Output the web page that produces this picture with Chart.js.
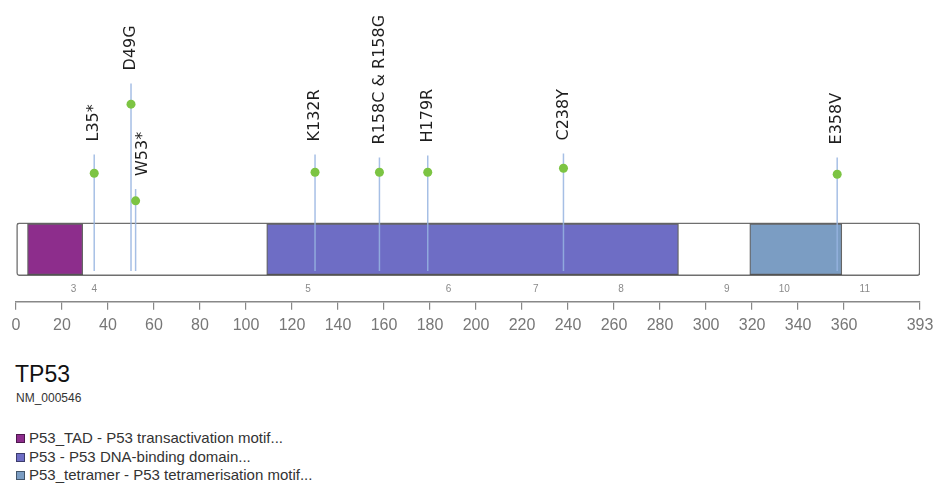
<!DOCTYPE html>
<html lang="en">
<head>
    <meta charset="UTF-8">
    <title>TP53 lollipop</title>
    <script src="https://cdn.jsdelivr.net/npm/chart.js"></script>
    <style>
        body {
            margin: 0;
            width: 936px;
            height: 499px;
            background: #fff;
            font-family: 'Liberation Sans', Arial, sans-serif;
            position: relative;
            overflow: hidden;
        }
        #chart-box {
            position: absolute;
            left: 0;
            top: 0;
            width: 936px;
            height: 341px;
        }
        #gene-name {
            position: absolute;
            left: 15px;
            top: 361px;
            font-size: 23px;
            line-height: 26px;
            color: #111;
        }
        #transcript {
            position: absolute;
            left: 16px;
            top: 391px;
            font-size: 12px;
            line-height: 14px;
            color: #333;
        }
        #legend {
            position: absolute;
            left: 16px;
            top: 429px;
        }
        .legend-row {
            height: 18.5px;
            line-height: 18px;
            font-size: 15px;
            color: #333;
            white-space: nowrap;
        }
        .legend-row span {
            display: inline-block;
            width: 7px;
            height: 7px;
            margin-right: 4px;
            border: 1px solid rgba(0, 0, 0, 0.45);
            vertical-align: 0px;
        }
    </style>
</head>
<body>
    <div id="chart-box">
        <canvas id="gene-chart"></canvas>
    </div>
    <div id="gene-name">TP53</div>
    <div id="transcript">NM_000546</div>
    <div id="legend"></div>

    <script>
        // protein length and axis ticks
        const geneLength = 393;
        const axisTicks = [0, 20, 40, 60, 80, 100, 120, 140, 160, 180, 200, 220, 240, 260, 280, 300, 320, 340, 360, 393];

        // exon numbers under the protein bar
        const exonLabels = ['3', '4', '5', '6', '7', '8', '9', '10', '11'];
        const exonPos = [25, 34, 127, 188, 226, 263, 309, 334, 369];

        // Pfam domains
        const domainStart = [5, 109, 319];
        const domainEnd = [29, 288, 359];
        const domainColors = ['#8d2d8c', '#6e6dc5', '#7b9dc3'];
        const domainText = [
            'P53_TAD - P53 transactivation motif...',
            'P53 - P53 DNA-binding domain...',
            'P53_tetramer - P53 tetramerisation motif...'
        ];

        // mutations
        const mutationLabels = ['L35*', 'D49G', 'W53*', 'K132R', 'R158C & R158G', 'H179R', 'C238Y', 'E358V'];
        const mutationPos = [34, 50, 52, 130, 158, 179, 238, 357];
        const mutationLevel = [108, 178, 80, 109, 109, 109, 113, 107];
        const stemTop = [127, 199, 92, 127, 124, 126, 128, 124];

        const barLevel = 31;
        const stemBase = 9;

        const stemData = [];
        mutationPos.forEach((p, i) => {
            stemData.push({x: p, y: stemBase});
            stemData.push({x: p, y: stemTop[i]});
            stemData.push({x: p, y: null});
        });

        const mutationLabelPlugin = {
            id: 'mutationLabels',
            afterDatasetsDraw(chart) {
                const ctx = chart.ctx;
                const xs = chart.scales.x;
                const ys = chart.scales.y;
                let prevX = -100;
                ctx.save();
                ctx.font = '16px "DejaVu Sans", sans-serif';
                ctx.fillStyle = '#1e1e1e';
                ctx.textAlign = 'left';
                ctx.textBaseline = 'middle';
                mutationLabels.forEach((label, i) => {
                    let x = xs.getPixelForValue(mutationPos[i]);
                    const y = ys.getPixelForValue(stemTop[i]) - 13;
                    const px = x;
                    if (x - prevX < 12) x += 7;
                    prevX = px;
                    ctx.save();
                    ctx.translate(x, y);
                    ctx.rotate(-Math.PI / 2);
                    ctx.fillText(label, 0, 0);
                    ctx.restore();
                });
                ctx.restore();
            }
        };

        // keep the end labels from shrinking the protein track
        const noSidePadding = axis => {
            axis.paddingLeft = 0;
            axis.paddingRight = 0;
        };

        const ctx = document.getElementById('gene-chart').getContext('2d');
        new Chart(ctx, {
            type: 'scatter',
            data: {
                datasets: [
                    {
                        type: 'scatter',
                        data: mutationPos.map((p, i) => ({x: p, y: mutationLevel[i]})),
                        backgroundColor: '#7cc443',
                        borderWidth: 0,
                        pointRadius: 4.5,
                        xAxisID: 'x',
                        yAxisID: 'y',
                        order: 1
                    },
                    {
                        type: 'line',
                        data: stemData,
                        borderColor: 'rgba(150, 180, 225, 0.85)',
                        borderWidth: 1.5,
                        pointRadius: 0,
                        spanGaps: false,
                        fill: false,
                        xAxisID: 'x',
                        yAxisID: 'y',
                        order: 2
                    },
                    {
                        type: 'bar',
                        indexAxis: 'y',
                        data: domainStart.map((s, i) => ({x: [s, domainEnd[i]], y: barLevel})),
                        backgroundColor: domainColors,
                        borderColor: 'rgba(50, 50, 50, 0.75)',
                        borderWidth: 1.3,
                        borderSkipped: false,
                        barThickness: 51,
                        grouped: false,
                        xAxisID: 'x',
                        yAxisID: 'y',
                        order: 4
                    },
                    {
                        type: 'bar',
                        indexAxis: 'y',
                        data: [{x: [0, geneLength], y: barLevel}],
                        backgroundColor: '#ffffff',
                        borderColor: '#6f6f6f',
                        borderWidth: 1.5,
                        borderRadius: 3,
                        borderSkipped: false,
                        barThickness: 53,
                        grouped: false,
                        xAxisID: 'x',
                        yAxisID: 'y',
                        order: 5
                    }
                ]
            },
            options: {
                responsive: true,
                maintainAspectRatio: false,
                animation: false,
                layout: {
                    padding: {left: 16, right: 16, top: 0, bottom: 0}
                },
                plugins: {
                    legend: {display: false},
                    tooltip: {enabled: false}
                },
                scales: {
                    y: {
                        type: 'linear',
                        display: false,
                        offset: false,
                        min: 0,
                        max: 279
                    },
                    exon: {
                        type: 'linear',
                        axis: 'x',
                        position: 'bottom',
                        weight: 0,
                        min: 0,
                        max: geneLength,
                        afterBuildTicks: axis => {
                            axis.ticks = exonPos.map(v => ({value: v}));
                        },
                        afterFit: axis => {
                            noSidePadding(axis);
                            axis.height += 4;
                        },
                        ticks: {
                            autoSkip: false,
                            maxRotation: 0,
                            padding: 3,
                            color: '#8a8a8a',
                            font: {family: 'Liberation Sans', size: 10},
                            callback: (value, index) => exonLabels[index]
                        },
                        grid: {display: false, drawTicks: false},
                        border: {display: false}
                    },
                    x: {
                        type: 'linear',
                        position: 'bottom',
                        weight: 1,
                        min: 0,
                        max: geneLength,
                        afterBuildTicks: axis => {
                            axis.ticks = axisTicks.map(v => ({value: v}));
                        },
                        afterFit: noSidePadding,
                        ticks: {
                            autoSkip: false,
                            maxRotation: 0,
                            padding: 6,
                            color: '#777',
                            font: {family: 'Liberation Sans', size: 16}
                        },
                        grid: {
                            drawOnChartArea: false,
                            tickLength: 8,
                            color: '#888',
                            lineWidth: 1.2
                        },
                        border: {color: '#888', width: 1.5}
                    }
                }
            },
            plugins: [mutationLabelPlugin]
        });

        const legend = document.getElementById('legend');
        domainText.forEach((t, i) => {
            const row = document.createElement('div');
            row.className = 'legend-row';
            const sw = document.createElement('span');
            sw.style.background = domainColors[i];
            row.appendChild(sw);
            row.appendChild(document.createTextNode(t));
            legend.appendChild(row);
        });
    </script>
</body>
</html>
